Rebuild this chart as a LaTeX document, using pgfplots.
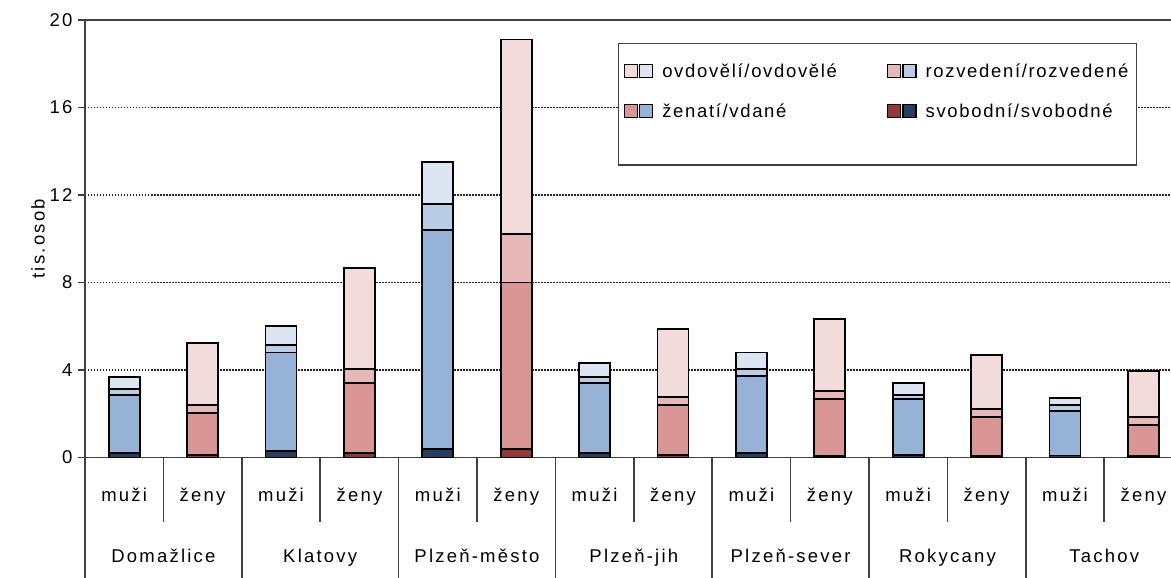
\documentclass[border=0pt]{standalone}
\usepackage{fontspec}
\setmainfont{Liberation Sans}[LetterSpace=12]
\usepackage{pgfplots}
\pgfplotsset{compat=1.18}
\usepackage{pgfplotstable}

\definecolor{mS}{HTML}{243F60}
\definecolor{mZ}{HTML}{95B3D7}
\definecolor{mR}{HTML}{B9CDE5}
\definecolor{mO}{HTML}{DCE6F2}
\definecolor{fS}{HTML}{953735}
\definecolor{fZ}{HTML}{D99694}
\definecolor{fR}{HTML}{E6B9B8}
\definecolor{fO}{HTML}{F2DCDB}
\definecolor{axisgray}{HTML}{404040}

% x: 0,2,..,12 = muži ; 1,3,..,13 = ženy
\pgfplotstableread{
x  mS   mZ    mR   mO   fS   fZ   fR   fO
0  0.22 2.63  0.28 0.54 0    0    0    0
1  0    0     0    0    0.10 1.92 0.37 2.84
2  0.30 4.50  0.35 0.87 0    0    0    0
3  0    0     0    0    0.22 3.20 0.62 4.63
4  0.39 10.01 1.20 1.91 0    0    0    0
5  0    0     0    0    0.39 7.61 2.22 8.89
6  0.19 3.21  0.27 0.67 0    0    0    0
7  0    0     0    0    0.11 2.28 0.37 3.11
8  0.19 3.55  0.30 0.76 0    0    0    0
9  0    0     0    0    0.08 2.58 0.38 3.28
10 0.10 2.56  0.19 0.55 0    0    0    0
11 0    0     0    0    0.07 1.77 0.37 2.48
12 0.09 2.02  0.28 0.35 0    0    0    0
13 0    0     0    0    0.05 1.42 0.37 2.11
}\data

\newcommand{\twosq}[2]{\draw[line width=1.3pt, fill=#1] (0pt,-6.5pt) rectangle (13pt,6.5pt);
  \draw[line width=1.3pt, fill=#2] (15.5pt,-6.5pt) rectangle (28.5pt,6.5pt);
  \path (34pt,0pt);}

\begin{document}
\begin{tikzpicture}[font=\fontsize{18.5pt}{22pt}\selectfont]
\useasboundingbox (-85pt,-120.5pt) rectangle (1086pt,457.5pt);
\begin{axis}[
  at={(0pt,0pt)}, anchor=south west,
  scale only axis, width=1092pt, height=437.5pt,
  xmin=-0.5, xmax=13.4286, ymin=0, ymax=20,
  ybar stacked, bar width=31pt,
  clip=false,
  axis line style={axisgray, line width=1.5pt},
  ytick={0,4,...,20},
  ymajorgrids,
  grid style={black!85, line width=1.5pt, dash pattern=on 1.5pt off 1.5pt},
  tick align=outside,
  major tick length=7pt,
  ytick style={axisgray, line width=1.5pt},
  xtick style={draw=none},
  xtick={0,...,13},
  xticklabels={muži,ženy,muži,ženy,muži,ženy,muži,ženy,muži,ženy,muži,ženy,muži,ženy},
  xticklabel style={anchor=base, yshift=-36.5pt},
  /pgf/number format/assume math mode=true,
  yticklabel style={xshift=-2pt},
  ylabel={tis.osob},
  every axis y label/.style={at={(axis description cs:-0.043,0.5)}, rotate=90, anchor=center},
  legend columns=2,
  reverse legend,
  legend cell align=left,
  legend style={at={(axis description cs:0.488,0.948)}, anchor=north west,
    draw=axisgray, line width=1.5pt, inner xsep=5pt, inner ysep=17pt,
    row sep=19pt,
    font={\fontsize{18.5pt}{22pt}\selectfont\addfontfeature{LetterSpace=9}},
    nodes={inner sep=3pt},
    /tikz/every even column/.append style={column sep=47pt}},
]
\addlegendimage{empty legend}\addlegendentry{}
\addlegendimage{empty legend}\addlegendentry{}
\addplot[fill=mS, draw=black, line width=1.9pt, forget plot] table[x=x, y=mS]{\data};
\addplot[fill=fS, draw=black, line width=1.9pt,
  legend image code/.code={\twosq{fS}{mS}}]
  table[x=x, y=fS]{\data};
\addlegendentry{svobodní/svobodné}
\addplot[fill=mZ, draw=black, line width=1.9pt, forget plot] table[x=x, y=mZ]{\data};
\addplot[fill=fZ, draw=black, line width=1.9pt,
  legend image code/.code={\twosq{fZ}{mZ}}]
  table[x=x, y=fZ]{\data};
\addlegendentry{ženatí/vdané}
\addplot[fill=mR, draw=black, line width=1.9pt, forget plot] table[x=x, y=mR]{\data};
\addplot[fill=fR, draw=black, line width=1.9pt,
  legend image code/.code={\twosq{fR}{mR}}]
  table[x=x, y=fR]{\data};
\addlegendentry{rozvedení/rozvedené}
\addplot[fill=mO, draw=black, line width=1.9pt, forget plot] table[x=x, y=mO]{\data};
\addplot[fill=fO, draw=black, line width=1.9pt,
  legend image code/.code={\twosq{fO}{mO}}]
  table[x=x, y=fO]{\data};
\addlegendentry{ovdovělí/ovdovělé}

% category separators
\pgfplotsinvokeforeach{0.5,2.5,4.5,6.5,8.5,10.5,12.5}{
  \draw[axisgray, line width=1.5pt] (axis cs:#1,0) -- ++(0pt,-64.5pt);
}
\pgfplotsinvokeforeach{-0.5,1.5,3.5,5.5,7.5,9.5,11.5}{
  \draw[axisgray, line width=1.5pt] (axis cs:#1,0) -- ++(0pt,-140pt);
}
\node[anchor=base, yshift=-104.5pt] at (axis cs:0.5,0) {Domažlice};
\node[anchor=base, yshift=-104.5pt] at (axis cs:2.5,0) {Klatovy};
\node[anchor=base, yshift=-104.5pt] at (axis cs:4.5,0) {Plzeň-město};
\node[anchor=base, yshift=-104.5pt] at (axis cs:6.5,0) {Plzeň-jih};
\node[anchor=base, yshift=-104.5pt] at (axis cs:8.5,0) {Plzeň-sever};
\node[anchor=base, yshift=-104.5pt] at (axis cs:10.5,0) {Rokycany};
\node[anchor=base, yshift=-104.5pt] at (axis cs:12.5,0) {Tachov};
\end{axis}
\end{tikzpicture}
\end{document}
